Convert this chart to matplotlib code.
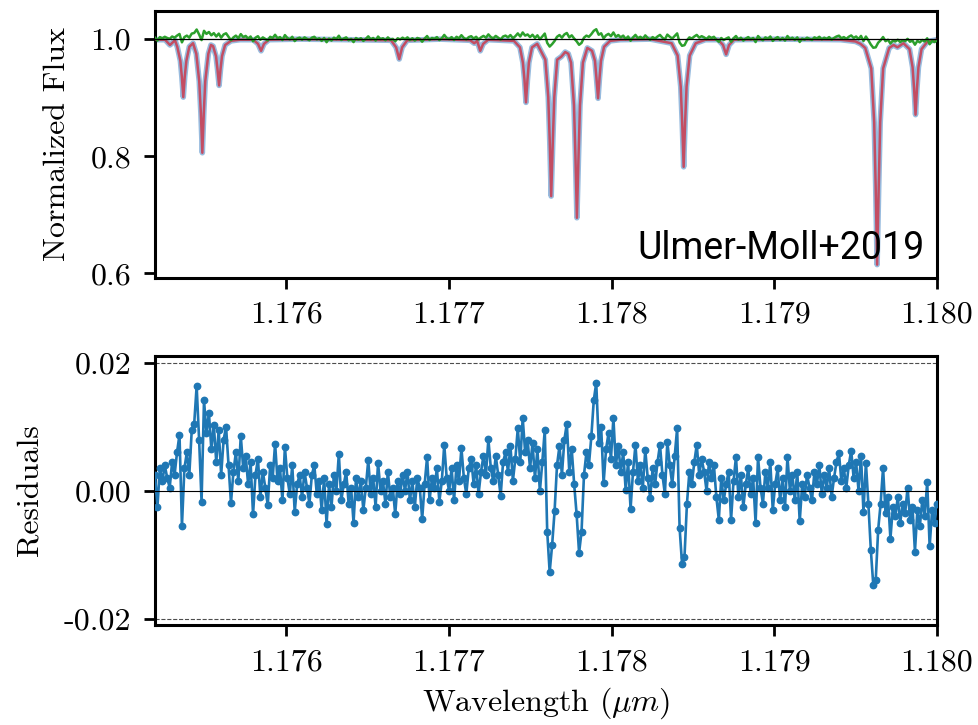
import numpy as np
import matplotlib
matplotlib.use('Agg')
import matplotlib.pyplot as plt

plt.rcParams['font.family'] = 'cmr10'
plt.rcParams['mathtext.fontset'] = 'cm'
plt.rcParams['axes.unicode_minus'] = False
plt.rcParams['axes.formatter.use_mathtext'] = True

# best-fit model spectrum (wavelength in micron, normalized flux)
model_wave = [1.175194, 1.175256, 1.175286, 1.175317, 1.175331, 1.175350, 1.175359,
              1.175368, 1.175377, 1.175387, 1.175405, 1.175428, 1.175448, 1.175466,
              1.175476, 1.175485, 1.175494, 1.175503, 1.175522, 1.175538, 1.175551,
              1.175569, 1.175578, 1.175588, 1.175597, 1.175606, 1.175625, 1.175661,
              1.175717, 1.175797, 1.175827, 1.175846, 1.175864, 1.175895, 1.176086,
              1.176393, 1.176645, 1.176676, 1.176695, 1.176713, 1.176744, 1.176947,
              1.177131, 1.177156, 1.177174, 1.177193, 1.177211, 1.177242, 1.177400,
              1.177437, 1.177455, 1.177465, 1.177474, 1.177483, 1.177492, 1.177511,
              1.177543, 1.177593, 1.177611, 1.177620, 1.177629, 1.177639, 1.177648,
              1.177666, 1.177691, 1.177715, 1.177734, 1.177751, 1.177769, 1.177778,
              1.177787, 1.177797, 1.177806, 1.177824, 1.177851, 1.177880, 1.177898,
              1.177907, 1.177917, 1.177926, 1.177935, 1.177954, 1.177991, 1.178054,
              1.178238, 1.178369, 1.178406, 1.178425, 1.178434, 1.178443, 1.178452,
              1.178461, 1.178480, 1.178517, 1.178577, 1.178655, 1.178685, 1.178704,
              1.178722, 1.178753, 1.179038, 1.179407, 1.179499, 1.179530, 1.179559,
              1.179596, 1.179614, 1.179623, 1.179632, 1.179642, 1.179651, 1.179669,
              1.179706, 1.179733, 1.179757, 1.179794, 1.179831, 1.179850, 1.179859,
              1.179868, 1.179877, 1.179886, 1.179905, 1.179942, 1.180000]
model_flux = [0.999, 0.999, 0.990, 0.998, 0.987, 0.963, 0.936,
              0.901, 0.936, 0.963, 0.987, 0.993, 0.975, 0.928,
              0.874, 0.806, 0.874, 0.928, 0.975, 0.990, 0.988,
              0.971, 0.949, 0.921, 0.949, 0.971, 0.990, 0.997,
              0.999, 0.999, 0.992, 0.980, 0.992, 0.999, 1.000,
              0.999, 0.998, 0.986, 0.966, 0.986, 0.998, 1.000,
              0.998, 0.993, 0.997, 0.980, 0.992, 0.999, 0.997,
              0.986, 0.960, 0.930, 0.892, 0.930, 0.960, 0.986,
              0.992, 0.965, 0.901, 0.826, 0.732, 0.826, 0.901,
              0.965, 0.970, 0.978, 0.975, 0.960, 0.887, 0.800,
              0.695, 0.800, 0.887, 0.960, 0.985, 0.980, 0.963,
              0.934, 0.899, 0.934, 0.963, 0.987, 0.997, 0.999,
              1.000, 0.993, 0.972, 0.919, 0.858, 0.782, 0.858,
              0.919, 0.972, 0.993, 0.999, 0.999, 0.990, 0.974,
              0.990, 0.999, 1.000, 0.999, 0.996, 0.992, 0.985,
              0.950, 0.858, 0.750, 0.615, 0.750, 0.858, 0.950,
              0.985, 0.990, 0.986, 0.993, 0.983, 0.952, 0.916,
              0.871, 0.916, 0.952, 0.983, 0.996, 0.999]

# residuals (data - model), in units of 1e-3, on the uniform pixel grid
wave_min, wave_max = 1.175194, 1.180
resid_milli = [
    2.5, -2.5, 3.5, 1.5, 4.0, 2.0, 0.5, 4.5, 2.5, 6.0,
    8.8, -5.5, 3.5, 6.0, 2.5, 9.5, 10.5, 16.4, 8.0, -1.7,
    14.2, 9.0, 12.2, 6.5, 10.3, 4.5, 9.5, 2.5, 8.0, 10.0,
    4.0, -1.9, 3.0, 6.0, 1.5, 8.6, 3.5, 5.5, 1.0, 4.5,
    -3.7, 2.5, 5.0, -1.0, 3.0, 0.5, -2.2, 4.0, 2.0, 7.4,
    1.5, 3.5, -1.5, 6.9, 2.0, -0.5, 4.0, -3.3, 1.0, 2.5,
    -1.0, 3.0, 0.5, -2.0, 2.5, 4.0, -0.5, 1.5, -3.0, 2.0,
    -5.2, 1.0, -2.5, 2.5, 0.0, 5.8, -1.5, 1.0, 3.0, -2.0,
    0.5, -5.0, 2.0, -1.0, 1.5, -3.0, 0.5, 4.8, -0.5, 2.0,
    -2.5, 4.4, 0.0, 1.5, -2.0, 3.0, -1.0, 0.5, -3.7, 1.5,
    -0.5, 2.5, 0.0, 3.0, -1.5, 1.5, -2.5, 2.0, 0.5, -4.4,
    1.0, 5.3, -1.5, 2.0, 0.5, 3.5, -1.7, 1.5, 7.2, 2.0,
    0.0, 3.5, -1.5, 4.0, 1.5, 6.7, 2.0, -0.5, 3.5, 5.0,
    1.0, 4.0, -0.5, 3.0, 5.5, 2.5, 8.1, 3.5, 1.5, 5.5,
    2.5, -0.8, 4.5, 6.0, 3.0, 7.0, 1.6, 5.0, 9.8, 4.5,
    11.4, 6.0, 8.0, 3.5, 7.5, 2.0, 6.5, -0.1, 4.5, 9.5,
    -6.4, -12.7, -8.5, -3.2, 4.0, 7.0, 2.5, 8.0, 10.5, 3.0,
    6.5, 1.0, -3.7, -9.7, -6.4, 2.5, 6.0, 4.0, 8.5, 14.2,
    16.9, 7.5, 10.0, 1.2, 6.5, 9.0, 5.0, 11.4, 4.0, 7.0,
    3.0, 6.0, 0.2, 4.5, -2.8, 3.0, 7.2, 1.5, 4.0, 0.5,
    6.4, 2.0, -1.1, 3.5, 1.0, 4.5, 7.2, 2.5, -0.5, 7.7,
    4.0, 1.0, 5.5, 9.8, -5.8, -11.4, -10.3, -2.0, 3.0, 1.0,
    4.5, 7.2, 2.5, 5.0, 3.0, 0.0, 4.5, 2.0, 4.0, -1.0,
    -4.5, 2.0, -1.5, 1.0, 3.0, -4.5, 1.5, 5.3, -1.0, 2.5,
    -2.5, 1.0, 3.5, -0.5, 2.0, -5.0, 5.3, 0.5, -2.0, 3.0,
    0.5, 4.5, -3.0, 1.0, 3.5, -1.5, 2.0, -2.5, 5.3, 0.0,
    2.5, -1.5, 3.0, -4.8, 1.0, -1.0, 2.5, 0.5, -1.5, 3.0,
    1.0, 4.0, -0.5, 2.5, 0.5, 3.5, -1.0, 2.0, 4.5, 5.9,
    1.5, 3.5, 0.5, 4.0, 6.3, 2.0, 4.5, 0.0, 5.5, -3.3,
    4.4, -2.0, -9.2, -14.7, -14.0, -6.1, -2.0, 3.6, -3.5, -1.0,
    -7.5, -2.5, -4.0, -1.0, -5.0, -2.0, -3.5, 0.5, -4.5, -2.5,
    -9.5, -3.0, -5.5, -1.5, -4.0, 1.4, -8.7, -3.0, -5.0, -2.0,
]

xticks = [1.176, 1.177, 1.178, 1.179, 1.180]
xticklabels = ['1.176', '1.177', '1.178', '1.179', '1.180']

resid = np.array(resid_milli) * 1e-3
resid_wave = np.linspace(wave_min, wave_max, len(resid))

fig = plt.figure(figsize=(9.79, 7.25), dpi=100)
ax1 = fig.add_axes([0.1583, 0.6172, 0.7988, 0.3676])
ax2 = fig.add_axes([0.1583, 0.1379, 0.7988, 0.3711])

# top: spectrum, model and residual offset by 1
ax1.plot(model_wave, model_flux, color='#7eaad6', lw=4, alpha=0.8, zorder=2)
ax1.plot(model_wave, model_flux, color='#d61f2f', lw=1.8, alpha=0.7, zorder=3)
ax1.plot(resid_wave, 1 + resid, color='#2ca02c', lw=1.8, zorder=4)
ax1.axhline(1.0, color='k', lw=0.9, zorder=5)
ax1.set_xlim(wave_min, wave_max)
ax1.set_ylim(0.593, 1.048)
ax1.set_yticks([0.6, 0.8, 1.0])
ax1.set_yticklabels(['0.6', '0.8', '1.0'])
ax1.set_ylabel('Normalized Flux', fontsize=23, labelpad=14)
ax1.text(0.984, 0.07, 'Ulmer-Moll+2019', transform=ax1.transAxes, ha='right',
         va='baseline', fontsize=27, color='black',
         family=['Roboto', 'DejaVu Sans'], weight='normal')

# bottom: residuals
ax2.plot(resid_wave, resid, color='#1f77b4', marker='o', ms=4.6, lw=1.9, zorder=3)
ax2.axhline(0.0, color='k', lw=0.8, zorder=4)
ax2.axhline(0.02, color='0.3', lw=0.8, ls='--')
ax2.axhline(-0.02, color='0.3', lw=0.8, ls='--')
ax2.set_xlim(wave_min, wave_max)
ax2.set_ylim(-0.0210, 0.0211)
ax2.set_yticks([-0.02, 0.0, 0.02])
ax2.set_yticklabels(['-0.02', '0.00', '0.02'])
ax2.set_ylabel('Residuals', fontsize=23, labelpad=14)
ax2.set_xlabel('Wavelength ($\\mu m$)', fontsize=23, labelpad=7)

for ax in (ax1, ax2):
    ax.set_xticks(xticks)
    ax.set_xticklabels(xticklabels)
    ax.tick_params(direction='out', length=8, width=2, labelsize=23, pad=9)
    for sp in ax.spines.values():
        sp.set_linewidth(2.2)

fig.savefig('out.png', dpi=100)
